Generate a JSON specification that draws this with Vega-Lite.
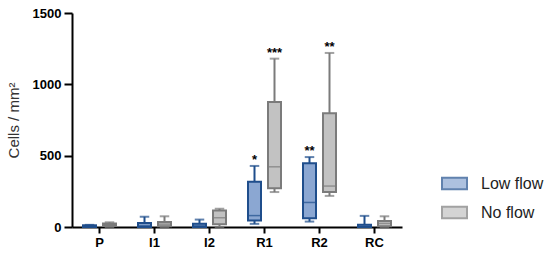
{
  "$schema": "https://vega.github.io/schema/vega-lite/v6.json",
  "width": 330,
  "height": 214,
  "autosize": {"type": "none"},
  "padding": {"left": 72, "top": 13, "right": 148, "bottom": 31},
  "config": {
    "view": {"stroke": null},
    "font": "Liberation Sans",
    "axisX": {"labelFontWeight": "bold", "labelFontSize": 13, "labelColor": "#000", "labelAngle": 0, "tickSize": 6, "tickWidth": 2, "tickColor": "#000", "domainWidth": 2, "domainColor": "#000", "labelPadding": 3, "title": null},
    "axisY": {"grid": false, "labelFontWeight": "bold", "labelFontSize": 13, "labelColor": "#000", "tickSize": 8, "tickWidth": 2, "tickColor": "#000", "domainWidth": 2, "domainColor": "#000", "labelPadding": 3, "titleFontWeight": "normal", "titleFontSize": 15, "titleColor": "#333", "titleX": -59, "titleY": 107, "titleAlign": "center", "titleBaseline": "middle", "titleAngle": -90}
  },
  "data": {
    "values": [
      {"group": "P", "flow": "Low flow", "min": 0, "q1": 0, "median": 4, "q3": 12, "max": 15, "star": ""},
      {"group": "P", "flow": "No flow", "min": 0, "q1": 10, "median": 18, "q3": 25, "max": 33, "star": ""},
      {"group": "I1", "flow": "Low flow", "min": 0, "q1": 0, "median": 10, "q3": 28, "max": 72, "star": ""},
      {"group": "I1", "flow": "No flow", "min": 0, "q1": 5, "median": 20, "q3": 35, "max": 75, "star": ""},
      {"group": "I2", "flow": "Low flow", "min": 0, "q1": 0, "median": 10, "q3": 22, "max": 52, "star": ""},
      {"group": "I2", "flow": "No flow", "min": 0, "q1": 20, "median": 65, "q3": 115, "max": 128, "star": ""},
      {"group": "R1", "flow": "Low flow", "min": 22, "q1": 45, "median": 80, "q3": 317, "max": 428, "star": "*"},
      {"group": "R1", "flow": "No flow", "min": 245, "q1": 272, "median": 422, "q3": 877, "max": 1180, "star": "***"},
      {"group": "R2", "flow": "Low flow", "min": 38, "q1": 62, "median": 172, "q3": 447, "max": 490, "star": "**"},
      {"group": "R2", "flow": "No flow", "min": 218, "q1": 245, "median": 287, "q3": 797, "max": 1220, "star": "**"},
      {"group": "RC", "flow": "Low flow", "min": 0, "q1": 0, "median": 5, "q3": 15, "max": 78, "star": ""},
      {"group": "RC", "flow": "No flow", "min": 0, "q1": 5, "median": 25, "q3": 42, "max": 75, "star": ""}
    ]
  },
  "encoding": {
    "x": {"field": "group", "type": "nominal", "sort": ["P", "I1", "I2", "R1", "R2", "RC"], "scale": {"paddingInner": 0, "paddingOuter": 0}},
    "xOffset": {"field": "flow", "type": "nominal", "scale": {"domain": ["Low flow", "No flow"], "paddingInner": 0.35, "paddingOuter": 0.55}}
  },
  "layer": [
    {
      "mark": {"type": "rule", "strokeWidth": 2},
      "encoding": {
        "y": {"field": "min", "type": "quantitative", "scale": {"domain": [0, 1500], "nice": false, "zero": true}, "axis": {"values": [0, 500, 1000, 1500], "format": "d", "title": "Cells / mm²"}},
        "y2": {"field": "max"},
        "stroke": {"field": "flow", "type": "nominal", "scale": {"domain": ["Low flow", "No flow"], "range": ["#1f4e8c", "#7b7b7b"]}}
      }
    },
    {
      "mark": {"type": "tick", "size": 8, "thickness": 0.5, "filled": false, "strokeWidth": 1.5},
      "encoding": {
        "y": {"field": "max", "type": "quantitative", "title": "Cells / mm²"},
        "stroke": {"field": "flow", "type": "nominal"}
      }
    },
    {
      "mark": {"type": "tick", "size": 8, "thickness": 0.5, "filled": false, "strokeWidth": 1.5},
      "encoding": {
        "y": {"field": "min", "type": "quantitative", "title": "Cells / mm²"},
        "stroke": {"field": "flow", "type": "nominal"}
      }
    },
    {
      "mark": {"type": "bar", "strokeWidth": 2},
      "encoding": {
        "y": {"field": "q1", "type": "quantitative", "title": "Cells / mm²"},
        "y2": {"field": "q3"},
        "fill": {"field": "flow", "type": "nominal", "scale": {"domain": ["Low flow", "No flow"], "range": ["#8ba7d2", "#c2c2c2"]},
          "legend": {"orient": "none", "legendX": 369, "legendY": 157, "title": null, "padding": 0, "symbolType": "M-1,-0.46H1V0.46H-1Z", "symbolSize": 625, "symbolStrokeWidth": 2, "symbolOpacity": 1, "labelFontSize": 16, "labelColor": "#222", "labelOffset": 13, "rowPadding": 5}},
        "stroke": {"field": "flow", "type": "nominal"}
      }
    },
    {
      "mark": {"type": "tick", "size": 13, "thickness": 0.3, "filled": false, "strokeWidth": 1.2},
      "encoding": {
        "y": {"field": "median", "type": "quantitative", "title": "Cells / mm²"},
        "stroke": {"field": "flow", "type": "nominal"}
      }
    },
    {
      "mark": {"type": "text", "fontWeight": "bold", "fontSize": 13, "color": "#000", "baseline": "alphabetic", "dy": -2},
      "encoding": {
        "y": {"field": "max", "type": "quantitative", "title": "Cells / mm²"},
        "text": {"field": "star"}
      }
    }
  ]
}
